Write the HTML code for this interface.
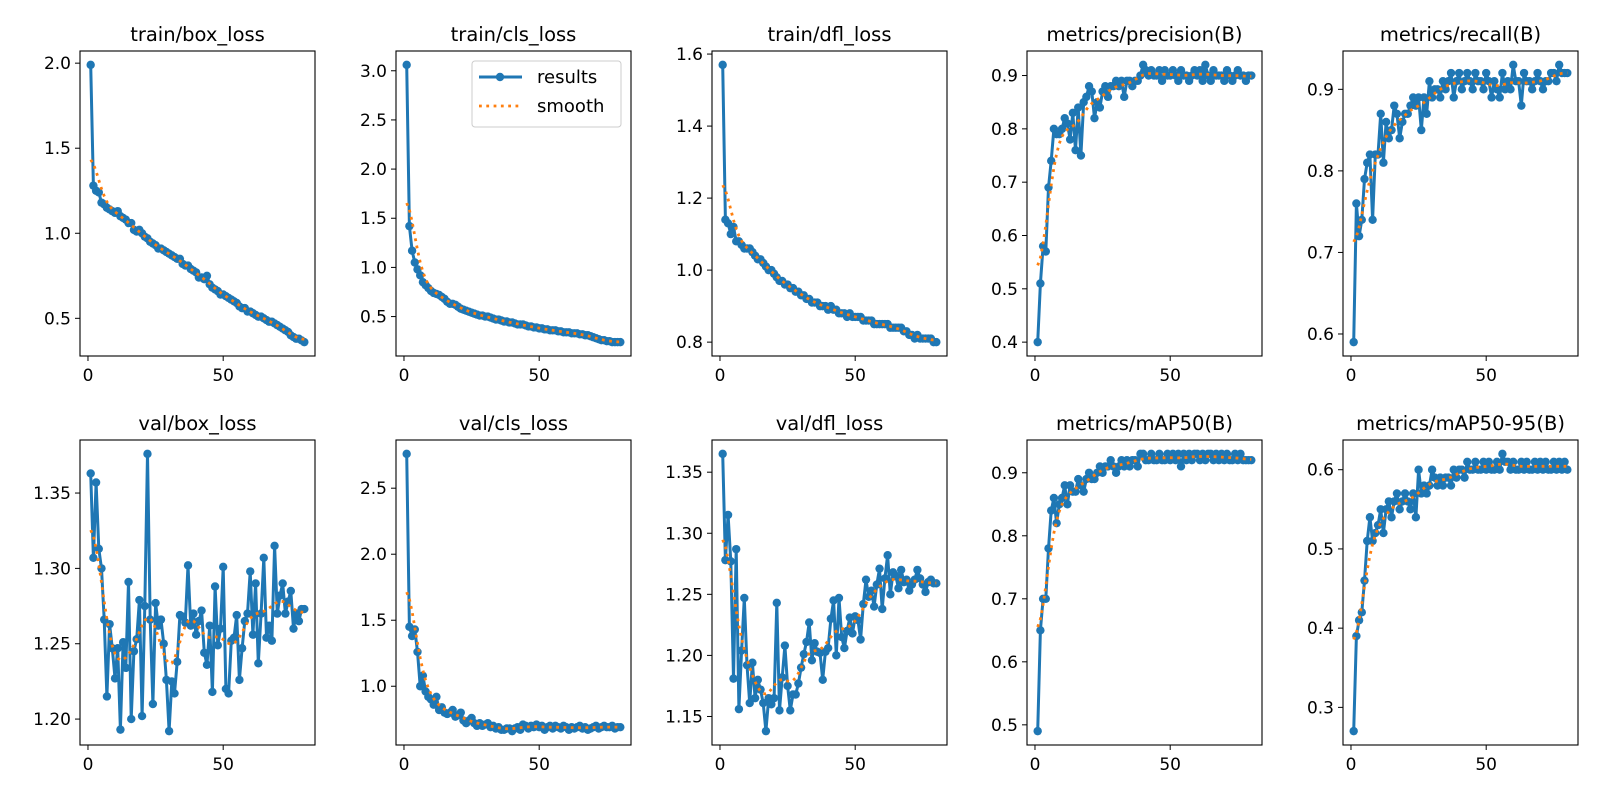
<!DOCTYPE html>
<html><head><meta charset="utf-8"><style>
html,body{margin:0;padding:0;background:#fff;}
svg{display:block;font-family:"DejaVu Sans","Liberation Sans",sans-serif;}
</style></head><body>
<svg id="fig" width="1600" height="800" viewBox="0 0 1600 800" xmlns="http://www.w3.org/2000/svg"></svg>
<script>
const titles = ["train/box_loss","train/cls_loss","train/dfl_loss","metrics/precision(B)","metrics/recall(B)","val/box_loss","val/cls_loss","val/dfl_loss","metrics/mAP50(B)","metrics/mAP50-95(B)"];
const trainBox = [1.99,1.28,1.25,1.24,1.18,1.17,1.15,1.14,1.13,1.12,1.13,1.10,1.09,1.08,1.06,1.06,1.02,1.01,1.02,1.00,0.98,0.97,0.95,0.94,0.93,0.91,0.91,0.90,0.89,0.88,0.87,0.86,0.85,0.85,0.82,0.81,0.81,0.79,0.78,0.77,0.74,0.74,0.73,0.75,0.70,0.68,0.67,0.66,0.64,0.64,0.63,0.62,0.61,0.60,0.59,0.57,0.56,0.56,0.54,0.54,0.53,0.52,0.51,0.51,0.50,0.49,0.48,0.48,0.47,0.46,0.45,0.44,0.43,0.42,0.40,0.39,0.38,0.38,0.37,0.36];
const trainCls = [3.06,1.42,1.17,1.05,0.98,0.92,0.85,0.82,0.79,0.76,0.74,0.73,0.72,0.70,0.68,0.65,0.63,0.63,0.62,0.60,0.58,0.57,0.56,0.55,0.54,0.53,0.52,0.51,0.51,0.50,0.50,0.49,0.48,0.47,0.47,0.46,0.45,0.45,0.44,0.44,0.43,0.42,0.42,0.42,0.41,0.40,0.40,0.39,0.39,0.38,0.38,0.37,0.37,0.36,0.36,0.36,0.35,0.35,0.34,0.34,0.34,0.33,0.33,0.33,0.32,0.32,0.31,0.31,0.30,0.29,0.28,0.27,0.26,0.26,0.25,0.25,0.24,0.24,0.24,0.24];
const trainDfl = [1.57,1.14,1.13,1.10,1.12,1.08,1.08,1.07,1.06,1.06,1.06,1.05,1.04,1.03,1.03,1.02,1.01,1.00,1.00,0.99,0.98,0.97,0.97,0.96,0.96,0.95,0.95,0.94,0.94,0.93,0.93,0.92,0.92,0.91,0.91,0.91,0.90,0.90,0.90,0.89,0.90,0.89,0.89,0.88,0.88,0.88,0.87,0.88,0.87,0.87,0.87,0.87,0.86,0.86,0.86,0.86,0.85,0.85,0.85,0.85,0.85,0.85,0.84,0.84,0.84,0.84,0.84,0.83,0.83,0.82,0.82,0.81,0.82,0.81,0.81,0.81,0.81,0.81,0.80,0.80];
const precision = [0.40,0.51,0.58,0.57,0.69,0.74,0.80,0.79,0.79,0.80,0.82,0.81,0.78,0.83,0.76,0.84,0.75,0.85,0.86,0.88,0.87,0.82,0.85,0.84,0.87,0.88,0.86,0.88,0.88,0.89,0.88,0.89,0.86,0.89,0.89,0.88,0.89,0.89,0.90,0.92,0.91,0.90,0.91,0.90,0.90,0.91,0.89,0.91,0.90,0.90,0.91,0.90,0.89,0.91,0.90,0.90,0.89,0.90,0.91,0.90,0.91,0.89,0.92,0.90,0.89,0.91,0.90,0.90,0.90,0.89,0.91,0.90,0.89,0.90,0.91,0.90,0.90,0.89,0.90,0.90];
const recall = [0.59,0.76,0.72,0.74,0.79,0.81,0.82,0.74,0.82,0.82,0.87,0.81,0.86,0.84,0.85,0.88,0.87,0.84,0.86,0.87,0.87,0.88,0.89,0.88,0.89,0.85,0.89,0.87,0.91,0.89,0.90,0.90,0.89,0.91,0.90,0.91,0.92,0.89,0.91,0.92,0.90,0.91,0.92,0.91,0.90,0.92,0.91,0.91,0.90,0.92,0.91,0.89,0.91,0.90,0.89,0.92,0.90,0.91,0.90,0.93,0.91,0.91,0.88,0.92,0.91,0.91,0.90,0.91,0.92,0.91,0.90,0.91,0.91,0.92,0.92,0.91,0.93,0.92,0.92,0.92];
const valBox = [1.363,1.307,1.357,1.313,1.30,1.266,1.215,1.263,1.247,1.227,1.247,1.193,1.251,1.234,1.291,1.200,1.245,1.253,1.279,1.202,1.275,1.376,1.266,1.210,1.277,1.262,1.266,1.250,1.226,1.192,1.225,1.217,1.238,1.269,1.268,1.264,1.302,1.262,1.270,1.256,1.265,1.272,1.244,1.236,1.262,1.218,1.288,1.249,1.260,1.301,1.220,1.217,1.252,1.254,1.269,1.226,1.247,1.265,1.270,1.298,1.256,1.290,1.237,1.270,1.307,1.254,1.262,1.252,1.315,1.270,1.282,1.290,1.270,1.278,1.285,1.260,1.270,1.265,1.273,1.273];
const valCls = [2.76,1.45,1.38,1.43,1.26,1.00,1.08,0.96,0.92,0.90,0.86,0.92,0.82,0.84,0.80,0.79,0.80,0.82,0.77,0.78,0.80,0.74,0.72,0.74,0.76,0.72,0.70,0.72,0.70,0.71,0.72,0.69,0.70,0.68,0.69,0.67,0.67,0.68,0.68,0.66,0.68,0.69,0.67,0.71,0.70,0.68,0.70,0.69,0.71,0.69,0.70,0.67,0.69,0.70,0.68,0.70,0.69,0.68,0.70,0.69,0.67,0.69,0.68,0.69,0.70,0.68,0.69,0.67,0.68,0.69,0.70,0.68,0.69,0.70,0.69,0.69,0.70,0.68,0.69,0.69];
const valDfl = [1.365,1.278,1.315,1.277,1.181,1.287,1.156,1.204,1.247,1.192,1.161,1.194,1.165,1.180,1.172,1.161,1.138,1.165,1.160,1.165,1.243,1.155,1.182,1.208,1.175,1.155,1.168,1.168,1.177,1.190,1.201,1.211,1.227,1.196,1.210,1.203,1.202,1.180,1.203,1.206,1.230,1.245,1.200,1.247,1.215,1.206,1.220,1.231,1.218,1.232,1.229,1.213,1.242,1.262,1.248,1.253,1.240,1.258,1.271,1.238,1.263,1.282,1.250,1.268,1.265,1.255,1.270,1.260,1.262,1.253,1.258,1.262,1.270,1.263,1.258,1.252,1.260,1.262,1.259,1.259];
const map50 = [0.49,0.65,0.70,0.70,0.78,0.84,0.86,0.82,0.85,0.86,0.88,0.85,0.88,0.87,0.87,0.89,0.88,0.87,0.89,0.90,0.89,0.89,0.90,0.91,0.90,0.91,0.91,0.92,0.91,0.90,0.91,0.92,0.91,0.92,0.91,0.92,0.92,0.91,0.93,0.93,0.92,0.92,0.93,0.92,0.92,0.93,0.92,0.92,0.93,0.92,0.93,0.92,0.93,0.91,0.93,0.92,0.93,0.92,0.93,0.93,0.92,0.93,0.92,0.93,0.93,0.92,0.93,0.92,0.93,0.92,0.93,0.92,0.92,0.93,0.92,0.93,0.92,0.92,0.92,0.92];
const map5095 = [0.27,0.39,0.41,0.42,0.46,0.51,0.54,0.51,0.52,0.53,0.55,0.52,0.55,0.56,0.54,0.56,0.57,0.55,0.56,0.57,0.56,0.55,0.57,0.54,0.60,0.57,0.58,0.57,0.58,0.60,0.59,0.58,0.59,0.58,0.59,0.59,0.58,0.60,0.59,0.60,0.60,0.59,0.61,0.60,0.60,0.61,0.60,0.60,0.61,0.60,0.61,0.60,0.60,0.61,0.60,0.62,0.61,0.61,0.60,0.61,0.60,0.60,0.61,0.60,0.61,0.60,0.60,0.61,0.60,0.61,0.60,0.61,0.60,0.60,0.61,0.60,0.61,0.60,0.61,0.60];
const series = [trainBox,trainCls,trainDfl,precision,recall,valBox,valCls,valDfl,map50,map5095];
const yTicks = [["0.5","1.0","1.5","2.0"],["0.5","1.0","1.5","2.0","2.5","3.0"],["0.8","1.0","1.2","1.4","1.6"],["0.4","0.5","0.6","0.7","0.8","0.9"],["0.6","0.7","0.8","0.9"],["1.20","1.25","1.30","1.35"],["1.0","1.5","2.0","2.5"],["1.15","1.20","1.25","1.30","1.35"],["0.5","0.6","0.7","0.8","0.9"],["0.3","0.4","0.5","0.6"]];
const xTicks = [0,50];

const NS="http://www.w3.org/2000/svg";
const svg=document.getElementById('fig');
function mk(tag,attrs,parent){const e=document.createElementNS(NS,tag);for(const k in attrs)e.setAttribute(k,attrs[k]);(parent||svg).appendChild(e);return e;}
function smooth(y,sigma){const r=Math.round(4*sigma);const w=[];let s=0;for(let i=-r;i<=r;i++){const v=Math.exp(-0.5*i*i/(sigma*sigma));w.push(v);s+=v;}
 const n=y.length;return y.map((_,i)=>{let a=0;for(let j=-r;j<=r;j++){let k=i+j;if(k<0)k=-k-1;if(k>=n)k=2*n-k-1;k=Math.max(0,Math.min(n-1,k));a+=w[j+r]*y[k];}return a/s;});}
const W=235,H=305,lefts=[80,396,712,1027,1343],tops=[51,440];
series.forEach((ys,p)=>{
  const L=lefts[p%5],T=tops[Math.floor(p/5)];
  const g=mk('g',{});
  
  
  const sm=smooth(ys,3);
  const n=ys.length;
  const mn=Math.min(...ys,...sm),mx=Math.max(...ys,...sm),rg=mx-mn;
  const y0=mn-0.05*rg,y1=mx+0.05*rg;
  const x0=1-0.05*(n-1),x1=n+0.05*(n-1);
  const X=v=>L+(v-x0)/(x1-x0)*W, Y=v=>T+H-(v-y0)/(y1-y0)*H;
  const t=mk('text',{x:L+W/2,y:T-10,'text-anchor':'middle','font-size':19.5,fill:'#000'},g);t.textContent=titles[p];
  
  xTicks.forEach(v=>{mk('line',{x1:X(v),x2:X(v),y1:T+H,y2:T+H+5,stroke:'#000','stroke-width':1},g);
    const e=mk('text',{x:X(v),y:T+H+25,'text-anchor':'middle','font-size':17},g);e.textContent=v;
    });
  yTicks[p].forEach(s=>{const v=parseFloat(s);mk('line',{x1:L-5,x2:L,y1:Y(v),y2:Y(v),stroke:'#000','stroke-width':1},g);
    const e=mk('text',{x:L-9,y:Y(v)+6,'text-anchor':'end','font-size':17},g);e.textContent=s;
    });
  const pts=ys.map((v,i)=>X(i+1).toFixed(1)+','+Y(v).toFixed(1)).join(' ');
  const line=mk('polyline',{points:pts,fill:'none',stroke:'#1f77b4','stroke-width':3,'stroke-linejoin':'round'},g);
  
  ys.forEach((v,i)=>{const c=mk('circle',{cx:X(i+1),cy:Y(v),r:4.2,fill:'#1f77b4'},g);
    });
  const sp=sm.map((v,i)=>X(i+1).toFixed(1)+','+Y(v).toFixed(1)).join(' ');
  const sl=mk('polyline',{points:sp,fill:'none',stroke:'#ff7f0e','stroke-width':2.8,'stroke-dasharray':'2.8 4.5'},g);
  
  const fr=mk('rect',{x:L,y:T,width:W,height:H,fill:'none',stroke:'#000','stroke-width':1.1},g);
  
  if(p===1){
    const lg=mk('g',{},g);
    mk('rect',{x:472,y:61,width:149,height:66,rx:3,fill:'#fff',stroke:'#ccc','stroke-width':1},lg);
    mk('line',{x1:479,x2:522,y1:77,y2:77,stroke:'#1f77b4','stroke-width':3},lg);
    mk('circle',{cx:500,cy:77,r:4.2,fill:'#1f77b4'},lg);
    const a=mk('text',{x:537,y:83,'font-size':18},lg);a.textContent='results';
    
    mk('line',{x1:479,x2:522,y1:106,y2:106,stroke:'#ff7f0e','stroke-width':2.8,'stroke-dasharray':'2.8 4.5'},lg);
    const b=mk('text',{x:537,y:112,'font-size':18},lg);b.textContent='smooth';
    
  }
});
</script>
</body></html>
